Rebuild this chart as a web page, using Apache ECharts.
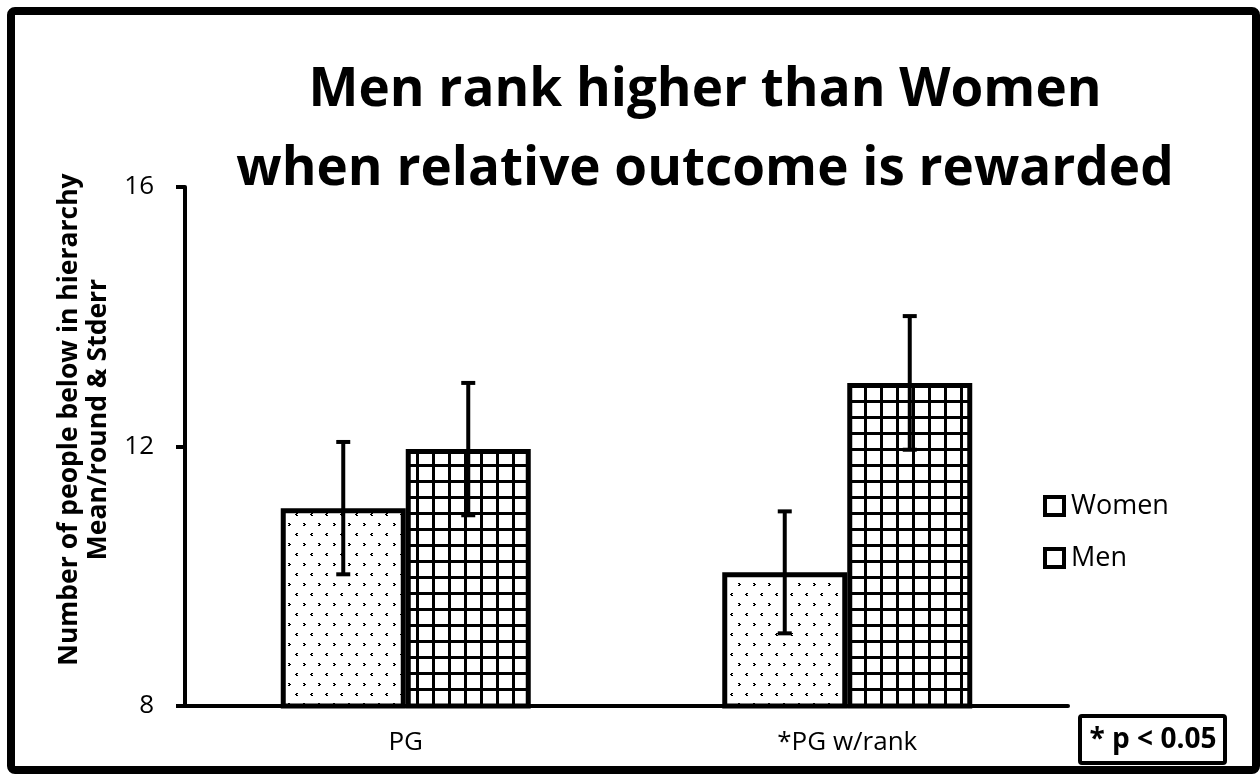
<!DOCTYPE html>
<html>
<head>
<meta charset="utf-8">
<script src="https://cdn.jsdelivr.net/npm/echarts@6/dist/echarts.min.js"></script>
<style>
  html, body { margin: 0; padding: 0; background: #fff; }
  #chart { width: 1260px; height: 776px; }
</style>
</head>
<body>
<div id="chart"></div>
<script>
var categories = ['PG', '*PG w/rank'];
var seriesNames = ['Women', 'Men'];
var womenMean = [11.05, 10.06];
var menMean = [11.96, 12.98];
var womenErr = [1.02, 0.94];
var menErr = [1.02, 1.03];
var yTicks = { min: 8, max: 16, interval: 4 };

var FONT = '"Open Sans", sans-serif';
var BAR_W = 125;

// fill patterns
function dotPattern() {
  var c = document.createElement('canvas');
  c.width = 15; c.height = 20;
  var ctx = c.getContext('2d');
  ctx.fillStyle = '#fff';
  ctx.fillRect(0, 0, 15, 20);
  ctx.fillStyle = '#000';
  // ">" mark
  ctx.fillRect(3, 3, 2, 1); ctx.fillRect(4, 4, 2, 1); ctx.fillRect(3, 5, 2, 1);
  // "<" mark
  ctx.fillRect(11, 13, 2, 1); ctx.fillRect(10, 14, 2, 1); ctx.fillRect(11, 15, 2, 1);
  return c;
}
function gridPattern() {
  var c = document.createElement('canvas');
  c.width = 16; c.height = 16;
  var ctx = c.getContext('2d');
  ctx.fillStyle = '#fff';
  ctx.fillRect(0, 0, 16, 16);
  ctx.fillStyle = '#000';
  ctx.fillRect(0, 0, 16, 3);
  ctx.fillRect(0, 0, 3, 16);
  return c;
}

var chart = echarts.init(document.getElementById('chart'));

function errData(means, errs) {
  return means.map(function (m, i) { return [i, m - errs[i], m + errs[i]]; });
}

function errSeries(name, means, errs, side) {
  return {
    type: 'custom',
    name: name + ' err',
    z: 5,
    data: errData(means, errs),
    renderItem: function (params, api) {
      var lo = api.coord([api.value(0), api.value(1)]);
      var hi = api.coord([api.value(0), api.value(2)]);
      var x = lo[0] + side * BAR_W / 2;
      var cap = 7;
      var style = { stroke: '#000', lineWidth: 4 };
      return {
        type: 'group',
        children: [
          { type: 'line', shape: { x1: x, y1: lo[1], x2: x, y2: hi[1] }, style: style },
          { type: 'line', shape: { x1: x - cap, y1: lo[1], x2: x + cap, y2: lo[1] }, style: style },
          { type: 'line', shape: { x1: x - cap, y1: hi[1], x2: x + cap, y2: hi[1] }, style: style }
        ]
      };
    }
  };
}

var legendIcon = { color: '#fff', borderColor: '#000', borderWidth: 4 };

var option = {
  animation: false,
  backgroundColor: '#fff',
  textStyle: { fontFamily: FONT, color: '#000' },
  title: {
    text: 'Men rank higher than Women\nwhen relative outcome is rewarded',
    left: 700,
    textAlign: 'center',
    top: 46,
    textStyle: { fontFamily: FONT, fontWeight: 'bold', fontSize: 53, lineHeight: 79, color: '#000' }
  },
  grid: { left: 185, right: 192, top: 187, bottom: 70 },
  legend: {
    orient: 'vertical',
    left: 1038,
    top: 482,
    itemGap: 14,
    itemWidth: 19,
    itemHeight: 18,
    icon: 'rect',
    data: [
      { name: seriesNames[0], itemStyle: legendIcon },
      { name: seriesNames[1], itemStyle: legendIcon }
    ],
    textStyle: { fontFamily: FONT, fontSize: 27, lineHeight: 38, color: '#000', padding: [0, 0, 0, 2] }
  },
  xAxis: {
    type: 'category',
    data: categories,
    axisLine: { lineStyle: { color: '#000', width: 4 } },
    axisTick: { length: 9, lineStyle: { color: '#000', width: 4 } },
    axisLabel: { fontFamily: FONT, fontSize: 26, color: '#000', margin: 24 }
  },
  yAxis: {
    type: 'value',
    min: yTicks.min,
    max: yTicks.max,
    interval: yTicks.interval,
    name: 'Number of people below in hierarchy\nMean/round & Stderr',
    nameLocation: 'middle',
    nameGap: 66,
    nameTextStyle: {
      fontFamily: FONT, fontWeight: 'bold', fontSize: 26.5, lineHeight: 29, color: '#000',
      padding: [0, 0, 0, 54]
    },
    axisLine: { show: true, lineStyle: { color: '#000', width: 4 } },
    axisTick: { show: true, length: 9, lineStyle: { color: '#000', width: 4 } },
    splitLine: { show: false },
    axisLabel: { fontFamily: FONT, fontSize: 26, color: '#000', margin: 31 }
  },
  series: [
    {
      type: 'bar',
      name: seriesNames[0],
      data: womenMean,
      barWidth: BAR_W,
      barGap: '0%',
      itemStyle: {
        color: { image: dotPattern(), repeat: 'repeat' },
        borderColor: '#000',
        borderWidth: 5
      }
    },
    {
      type: 'bar',
      name: seriesNames[1],
      data: menMean,
      barWidth: BAR_W,
      barGap: '0%',
      itemStyle: {
        color: { image: gridPattern(), repeat: 'repeat' },
        borderColor: '#000',
        borderWidth: 5
      }
    },
    errSeries(seriesNames[0], womenMean, womenErr, -1),
    errSeries(seriesNames[1], menMean, menErr, 1)
  ],
  graphic: [
    {
      type: 'rect',
      shape: { x: 11, y: 11, width: 1245, height: 759, r: 4 },
      style: { fill: null, stroke: '#000', lineWidth: 8 },
      silent: true
    },
    {
      type: 'rect',
      shape: { x: 1080, y: 716, width: 145, height: 47, r: 2 },
      style: { fill: '#fff', stroke: '#000', lineWidth: 4 }
    },
    {
      type: 'text',
      x: 1153,
      y: 740,
      style: {
        text: '* p < 0.05',
        fontFamily: FONT,
        fontWeight: 'bold',
        fontSize: 28,
        fill: '#000',
        align: 'center',
        verticalAlign: 'middle'
      }
    }
  ]
};

option && chart.setOption(option);
</script>
</body>
</html>
